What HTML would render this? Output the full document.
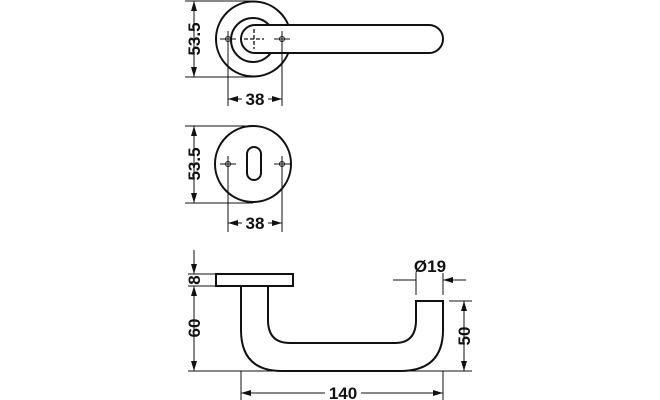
<!DOCTYPE html>
<html><head><style>body{margin:0;background:#fff}svg{display:block}text{font-family:"Liberation Sans",sans-serif;font-weight:bold;font-size:17px;fill:#111}</style></head><body>
<svg width="660" height="400" viewBox="0 0 660 400" xmlns="http://www.w3.org/2000/svg">
<defs><marker id="a" viewBox="0 0 10 6" refX="10" refY="3" markerWidth="10" markerHeight="6" orient="auto-start-reverse" markerUnits="userSpaceOnUse"><path d="M0,0 L10,3 L0,6z" fill="#111"/></marker></defs>
<g fill="none" stroke="#111" stroke-width="1.3">
<circle cx="253.5" cy="39" r="37.5" stroke-width="2"/>
<circle cx="253" cy="40" r="22" stroke-width="2"/>
<path d="M255,25 L429,25 A14,14 0 0 1 429,53 L255,53 A14,14 0 0 1 255,25Z" fill="#fff" stroke-width="2"/>
<path d="M244,39h20 M254,29v20" stroke-dasharray="4,2"/>
<g stroke-width="1"><circle cx="228" cy="39" r="2.5"/><path d="M220,39h16M228,31v16"/><circle cx="282" cy="39" r="2.5"/><path d="M274,39h16M282,31v16"/></g>
<path d="M185,1H253 M185,77H253" stroke-width="1"/>
<path d="M194,1V77" marker-start="url(#a)" marker-end="url(#a)" stroke-width="1"/>
<path d="M228,40V106 M282,40V106" stroke-width="1"/>
<circle cx="253" cy="164" r="38" stroke-width="2"/>
<rect x="247" y="147" width="14" height="33" rx="7" stroke-width="2"/>
<g stroke-width="1"><circle cx="228" cy="164" r="2.5"/><path d="M220,164h16M228,156v16"/><circle cx="282" cy="164" r="2.5"/><path d="M274,164h16M282,156v16"/></g>
<path d="M185,126H253 M185,203H253" stroke-width="1"/>
<path d="M194,126V203" marker-start="url(#a)" marker-end="url(#a)" stroke-width="1"/>
<path d="M228,165V232 M282,165V232" stroke-width="1"/>
<rect x="216" y="274" width="77" height="12" stroke-width="2"/>
<path d="M241,286 L241,330 Q241,371 282,371 L400,371 Q443,371 443,330 L443,301 L416,301 L416,320 Q416,343 395,343 L290,343 Q268,343 268,320 L268,286" stroke-width="2"/>
<path d="M188,371H472 M188,274H216 M188,286H216 M449,301H472" stroke-width="1"/>
<path d="M194,250V274" marker-end="url(#a)" stroke-width="1"/>
<path d="M194,286V371" marker-start="url(#a)" marker-end="url(#a)" stroke-width="1"/>
<path d="M241,371V400 M443,371V400" stroke-width="1"/>
<path d="M416,273V295 M443,273V295" stroke-width="1"/>
<path d="M393,280H416 M466,280H443" marker-end="url(#a)" stroke-width="1"/>
<path d="M464,301V371" marker-start="url(#a)" marker-end="url(#a)" stroke-width="1"/>
</g>
<g stroke="#111" stroke-width="1" fill="none">
<path d="M228,99H242" marker-start="url(#a)"/><path d="M268,99H282" marker-end="url(#a)"/>
<path d="M228,223H242" marker-start="url(#a)"/><path d="M268,223H282" marker-end="url(#a)"/>
<path d="M241,393H325" marker-start="url(#a)"/><path d="M361,393H443" marker-end="url(#a)"/>
</g>
<g text-anchor="middle">
<text x="255" y="105">38</text>
<text x="255" y="229">38</text>
<text x="343" y="399">140</text>
<text x="430" y="272">Ø19</text>
<text transform="translate(200,39) rotate(-90)">53.5</text>
<text transform="translate(200,164) rotate(-90)">53.5</text>
<text transform="translate(200,328) rotate(-90)">60</text>
<text transform="translate(200,280) rotate(-90)">8</text>
<text transform="translate(470,336) rotate(-90)">50</text>
</g>
</svg></body></html>
